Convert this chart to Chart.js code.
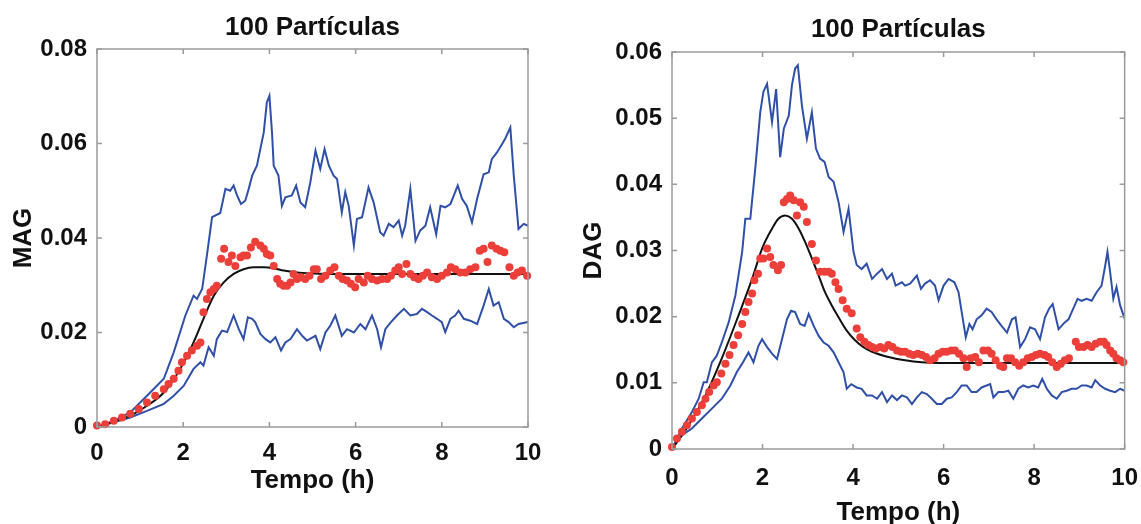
<!DOCTYPE html>
<html>
<head>
<meta charset="utf-8">
<script src="https://cdn.jsdelivr.net/npm/chart.js@4.4.1/dist/chart.umd.min.js"></script>
<style>
  html, body { margin: 0; padding: 0; background: #fff; overflow: hidden; width: 1141px; height: 524px; }
  #left { position: absolute; left: 0; top: 0; }
  #right { position: absolute; left: 570px; top: 0; }
</style>
</head>
<body>
<canvas id="left" width="560" height="524"></canvas>
<canvas id="right" width="583" height="540"></canvas>
<script>
// MAG (left panel) - time in hours
const magUpperT = [0, 0.39, 0.77, 1.16, 1.55, 1.78, 2.05, 2.24, 2.32, 2.44, 2.55, 2.67, 2.86, 2.98, 3.09, 3.17, 3.25, 3.34, 3.44, 3.52, 3.60, 3.71, 3.79, 3.87, 3.94, 4.00, 4.06, 4.10, 4.21, 4.29, 4.37, 4.52, 4.62, 4.72, 4.83, 4.95, 5.07, 5.18, 5.28, 5.38, 5.49, 5.57, 5.68, 5.76, 5.84, 5.96, 6.03, 6.15, 6.30, 6.42, 6.57, 6.65, 6.77, 6.88, 7.00, 7.08, 7.15, 7.27, 7.39, 7.50, 7.62, 7.73, 7.87, 7.97, 8.08, 8.20, 8.28, 8.37, 8.47, 8.58, 8.70, 8.82, 8.97, 9.09, 9.16, 9.28, 9.40, 9.47, 9.59, 9.67, 9.78, 9.90, 10.0];
const magUpperV = [0, 0.0013, 0.0031, 0.0066, 0.0102, 0.0158, 0.0236, 0.0278, 0.0271, 0.0292, 0.0363, 0.0444, 0.0453, 0.0504, 0.0500, 0.0511, 0.0490, 0.0472, 0.0479, 0.0504, 0.0532, 0.0553, 0.0588, 0.0624, 0.0687, 0.0701, 0.0624, 0.0553, 0.0532, 0.0468, 0.0486, 0.0490, 0.0511, 0.0475, 0.0465, 0.0518, 0.0585, 0.0546, 0.0588, 0.0553, 0.0532, 0.0525, 0.0454, 0.0497, 0.0468, 0.0384, 0.0440, 0.0444, 0.0507, 0.0475, 0.0412, 0.0405, 0.0430, 0.0423, 0.0437, 0.0405, 0.0426, 0.0504, 0.0394, 0.0416, 0.0426, 0.0465, 0.0408, 0.0468, 0.0465, 0.0472, 0.0490, 0.0511, 0.0483, 0.0468, 0.0433, 0.0483, 0.0535, 0.0539, 0.0567, 0.0581, 0.0599, 0.0610, 0.0634, 0.0532, 0.0419, 0.0430, 0.0426];

const magLowerT = [0, 0.39, 0.77, 1.16, 1.55, 1.78, 2.01, 2.24, 2.40, 2.47, 2.59, 2.71, 2.78, 2.90, 3.02, 3.17, 3.29, 3.40, 3.50, 3.60, 3.67, 3.79, 3.91, 4.02, 4.14, 4.27, 4.37, 4.49, 4.64, 4.76, 4.87, 5.07, 5.18, 5.30, 5.41, 5.53, 5.68, 5.80, 5.96, 6.11, 6.23, 6.38, 6.50, 6.59, 6.69, 6.81, 6.96, 7.12, 7.27, 7.42, 7.54, 7.66, 7.77, 7.89, 8.00, 8.08, 8.20, 8.31, 8.39, 8.51, 8.66, 8.82, 8.97, 9.09, 9.20, 9.32, 9.44, 9.55, 9.67, 9.78, 10.0];
const magLowerV = [0, 0.0010, 0.0020, 0.0034, 0.0049, 0.0066, 0.0087, 0.0123, 0.0137, 0.0130, 0.0169, 0.0151, 0.0186, 0.0204, 0.0201, 0.0236, 0.0207, 0.0186, 0.0232, 0.0229, 0.0222, 0.0197, 0.0186, 0.0179, 0.0190, 0.0162, 0.0179, 0.0186, 0.0207, 0.0193, 0.0183, 0.0193, 0.0165, 0.0200, 0.0214, 0.0236, 0.0193, 0.0207, 0.0200, 0.0218, 0.0207, 0.0236, 0.0207, 0.0169, 0.0207, 0.0221, 0.0236, 0.0250, 0.0236, 0.0239, 0.0250, 0.0243, 0.0236, 0.0229, 0.0222, 0.0201, 0.0229, 0.0236, 0.0246, 0.0229, 0.0225, 0.0218, 0.0257, 0.0292, 0.0257, 0.0264, 0.0229, 0.0222, 0.0211, 0.0218, 0.0222];

const magDotsT = [0.0, 0.19, 0.39, 0.58, 0.77, 0.97, 1.16, 1.35, 1.55, 1.66, 1.78, 1.89, 1.97, 2.09, 2.20, 2.32, 2.40, 2.47, 2.55, 2.63, 2.71, 2.78, 2.88, 2.95, 3.05, 3.13, 3.21, 3.33, 3.40, 3.48, 3.57, 3.67, 3.79, 3.87, 3.94, 4.02, 4.10, 4.18, 4.25, 4.33, 4.41, 4.49, 4.56, 4.64, 4.73, 4.83, 4.93, 5.03, 5.10, 5.20, 5.30, 5.41, 5.51, 5.61, 5.70, 5.80, 5.89, 5.99, 6.07, 6.19, 6.28, 6.38, 6.50, 6.61, 6.73, 6.82, 6.92, 7.00, 7.08, 7.18, 7.27, 7.36, 7.46, 7.56, 7.66, 7.77, 7.89, 8.00, 8.12, 8.21, 8.31, 8.43, 8.55, 8.66, 8.78, 8.88, 8.97, 9.06, 9.16, 9.27, 9.36, 9.45, 9.57, 9.67, 9.76, 9.86, 9.98];
const magDotsV = [0.0003, 0.0006, 0.0013, 0.0020, 0.0028, 0.0038, 0.0052, 0.0066, 0.0080, 0.0091, 0.0102, 0.0119, 0.0137, 0.0151, 0.0162, 0.0172, 0.0179, 0.0243, 0.0271, 0.0285, 0.0292, 0.0299, 0.0356, 0.0377, 0.0349, 0.0363, 0.0341, 0.0359, 0.0363, 0.0363, 0.0380, 0.0392, 0.0384, 0.0377, 0.0366, 0.0363, 0.0341, 0.0313, 0.0303, 0.0299, 0.0299, 0.0306, 0.0324, 0.0313, 0.0317, 0.0313, 0.0320, 0.0334, 0.0334, 0.0313, 0.0320, 0.0331, 0.0338, 0.0320, 0.0313, 0.0310, 0.0303, 0.0296, 0.0313, 0.0306, 0.0320, 0.0313, 0.0310, 0.0313, 0.0313, 0.0320, 0.0331, 0.0338, 0.0324, 0.0345, 0.0324, 0.0317, 0.0313, 0.0320, 0.0327, 0.0317, 0.0313, 0.0320, 0.0327, 0.0338, 0.0334, 0.0327, 0.0327, 0.0334, 0.0338, 0.0373, 0.0377, 0.0349, 0.0384, 0.0377, 0.0373, 0.0370, 0.0338, 0.0320, 0.0327, 0.0331, 0.0320];

const magFitT = [0, 0.77, 1.16, 1.55, 1.93, 2.24, 2.47, 2.71, 2.94, 3.17, 3.40, 3.63, 3.87, 4.10, 4.33, 4.64, 5.03, 5.41, 10.0];
const magFitV = [0, 0.0024, 0.0045, 0.0073, 0.0123, 0.0179, 0.0229, 0.0278, 0.0306, 0.0324, 0.0334, 0.0338, 0.0338, 0.0336, 0.0331, 0.0327, 0.0325, 0.0324, 0.0324];

// DAG (right panel)
const dagUpperT = [0, 0.22, 0.44, 0.59, 0.70, 0.77, 0.88, 0.99, 1.10, 1.25, 1.40, 1.55, 1.62, 1.73, 1.84, 1.95, 2.02, 2.10, 2.21, 2.30, 2.39, 2.47, 2.58, 2.65, 2.72, 2.78, 2.87, 2.98, 3.09, 3.18, 3.27, 3.37, 3.46, 3.57, 3.68, 3.79, 3.90, 4.01, 4.08, 4.19, 4.30, 4.42, 4.53, 4.64, 4.75, 4.86, 4.94, 5.08, 5.15, 5.26, 5.41, 5.50, 5.59, 5.70, 5.81, 5.89, 6.00, 6.11, 6.24, 6.33, 6.40, 6.49, 6.57, 6.64, 6.73, 6.84, 6.95, 7.06, 7.17, 7.28, 7.40, 7.51, 7.59, 7.69, 7.80, 7.91, 8.02, 8.13, 8.24, 8.33, 8.41, 8.54, 8.67, 8.76, 8.83, 8.96, 9.05, 9.16, 9.27, 9.38, 9.49, 9.57, 9.62, 9.68, 9.75, 9.82, 9.90, 10.0];
const dagUpperV = [0, 0.0031, 0.0056, 0.0076, 0.0101, 0.0101, 0.0131, 0.0141, 0.0161, 0.0191, 0.0232, 0.0298, 0.0348, 0.0348, 0.0424, 0.0509, 0.0540, 0.0552, 0.0494, 0.0544, 0.0441, 0.0484, 0.0504, 0.0550, 0.0575, 0.0580, 0.0519, 0.0469, 0.0509, 0.0454, 0.0439, 0.0434, 0.0411, 0.0404, 0.0373, 0.0328, 0.0363, 0.0298, 0.0278, 0.0272, 0.0280, 0.0257, 0.0265, 0.0272, 0.0257, 0.0265, 0.0247, 0.0252, 0.0247, 0.0250, 0.0262, 0.0242, 0.0250, 0.0255, 0.0247, 0.0225, 0.0247, 0.0257, 0.0252, 0.0237, 0.0207, 0.0169, 0.0189, 0.0181, 0.0196, 0.0202, 0.0212, 0.0207, 0.0196, 0.0186, 0.0176, 0.0196, 0.0199, 0.0154, 0.0166, 0.0184, 0.0181, 0.0166, 0.0199, 0.0212, 0.0219, 0.0181, 0.0191, 0.0196, 0.0207, 0.0227, 0.0224, 0.0227, 0.0224, 0.0237, 0.0247, 0.0277, 0.0298, 0.0267, 0.0227, 0.0245, 0.0217, 0.0197];

const dagLowerT = [0, 0.22, 0.44, 0.66, 0.88, 1.10, 1.29, 1.43, 1.55, 1.69, 1.80, 1.91, 1.99, 2.10, 2.21, 2.32, 2.43, 2.54, 2.63, 2.72, 2.83, 2.93, 3.02, 3.13, 3.24, 3.35, 3.46, 3.57, 3.68, 3.79, 3.86, 3.96, 4.08, 4.19, 4.30, 4.42, 4.53, 4.64, 4.75, 4.86, 4.97, 5.08, 5.19, 5.30, 5.41, 5.52, 5.63, 5.74, 5.85, 5.96, 6.07, 6.18, 6.29, 6.40, 6.51, 6.62, 6.73, 6.84, 6.95, 7.03, 7.10, 7.21, 7.32, 7.43, 7.54, 7.65, 7.76, 7.87, 7.98, 8.09, 8.18, 8.28, 8.39, 8.50, 8.61, 8.72, 8.83, 8.94, 9.05, 9.16, 9.27, 9.35, 9.46, 9.57, 9.68, 9.79, 9.90, 10.0];
const dagLowerV = [0, 0.0021, 0.0031, 0.0046, 0.0061, 0.0076, 0.0096, 0.0116, 0.0129, 0.0146, 0.0131, 0.0156, 0.0166, 0.0154, 0.0144, 0.0136, 0.0166, 0.0196, 0.0209, 0.0207, 0.0189, 0.0186, 0.0204, 0.0186, 0.0171, 0.0161, 0.0156, 0.0146, 0.0131, 0.0116, 0.0091, 0.0098, 0.0093, 0.0091, 0.0081, 0.0081, 0.0076, 0.0086, 0.0071, 0.0081, 0.0074, 0.0081, 0.0078, 0.0068, 0.0078, 0.0086, 0.0083, 0.0076, 0.0068, 0.0068, 0.0076, 0.0078, 0.0086, 0.0096, 0.0096, 0.0086, 0.0086, 0.0093, 0.0096, 0.0098, 0.0078, 0.0086, 0.0086, 0.0088, 0.0076, 0.0091, 0.0096, 0.0093, 0.0096, 0.0093, 0.0106, 0.0091, 0.0081, 0.0076, 0.0086, 0.0088, 0.0091, 0.0091, 0.0096, 0.0096, 0.0093, 0.0104, 0.0096, 0.0091, 0.0088, 0.0086, 0.0091, 0.0088];

const dagDotsT = [0.0, 0.11, 0.22, 0.33, 0.44, 0.55, 0.66, 0.74, 0.82, 0.92, 0.99, 1.09, 1.18, 1.27, 1.36, 1.46, 1.55, 1.62, 1.69, 1.77, 1.82, 1.90, 1.95, 2.02, 2.10, 2.17, 2.24, 2.34, 2.41, 2.47, 2.54, 2.61, 2.69, 2.76, 2.83, 2.91, 2.98, 3.09, 3.18, 3.27, 3.37, 3.46, 3.53, 3.61, 3.68, 3.77, 3.86, 3.97, 4.08, 4.16, 4.25, 4.34, 4.42, 4.50, 4.60, 4.69, 4.78, 4.87, 4.97, 5.06, 5.15, 5.24, 5.33, 5.43, 5.52, 5.61, 5.70, 5.80, 5.89, 5.98, 6.07, 6.17, 6.25, 6.34, 6.44, 6.51, 6.60, 6.70, 6.78, 6.88, 6.98, 7.06, 7.15, 7.25, 7.32, 7.40, 7.49, 7.58, 7.67, 7.76, 7.86, 7.95, 8.04, 8.13, 8.23, 8.31, 8.40, 8.50, 8.59, 8.68, 8.77, 8.92, 8.99, 9.09, 9.18, 9.27, 9.36, 9.46, 9.54, 9.60, 9.68, 9.75, 9.82, 9.90, 9.97];
const dagDotsV = [0.0003, 0.0016, 0.0026, 0.0036, 0.0046, 0.0056, 0.0066, 0.0076, 0.0086, 0.0096, 0.0101, 0.0114, 0.0129, 0.0142, 0.0157, 0.0172, 0.0189, 0.0207, 0.0222, 0.0235, 0.0255, 0.0265, 0.0288, 0.0288, 0.0303, 0.0290, 0.0278, 0.0270, 0.0278, 0.0373, 0.0378, 0.0383, 0.0376, 0.0353, 0.0373, 0.0366, 0.0343, 0.0310, 0.0285, 0.0268, 0.0268, 0.0268, 0.0265, 0.0252, 0.0242, 0.0225, 0.0212, 0.0205, 0.0182, 0.0169, 0.0162, 0.0157, 0.0154, 0.0152, 0.0154, 0.0152, 0.0157, 0.0154, 0.0149, 0.0147, 0.0147, 0.0144, 0.0142, 0.0144, 0.0142, 0.0139, 0.0134, 0.0137, 0.0144, 0.0147, 0.0147, 0.0149, 0.0149, 0.0144, 0.0137, 0.0124, 0.0137, 0.0139, 0.0131, 0.0149, 0.0149, 0.0144, 0.0134, 0.0126, 0.0124, 0.0137, 0.0137, 0.0131, 0.0126, 0.0131, 0.0137, 0.0139, 0.0142, 0.0144, 0.0142, 0.0139, 0.0131, 0.0124, 0.0129, 0.0134, 0.0137, 0.0162, 0.0154, 0.0154, 0.0157, 0.0154, 0.0159, 0.0162, 0.0162, 0.0157, 0.0149, 0.0144, 0.0137, 0.0134, 0.0131];

const dagFitT = [0, 0.37, 0.74, 1.10, 1.47, 1.77, 1.99, 2.21, 2.35, 2.50, 2.65, 2.80, 2.94, 3.09, 3.24, 3.38, 3.53, 3.68, 3.86, 4.05, 4.23, 4.42, 4.78, 5.15, 5.52, 5.89, 10.0];
const dagFitV = [0, 0.0036, 0.0081, 0.0137, 0.0202, 0.0257, 0.0303, 0.0333, 0.0348, 0.0353, 0.0348, 0.0333, 0.0313, 0.0288, 0.0262, 0.0237, 0.0217, 0.0199, 0.0179, 0.0164, 0.0154, 0.0147, 0.0139, 0.0134, 0.0131, 0.0130, 0.0130];

const BLUE = "#3050a8";
const RED = "#ec3f3a";
const FONT = "'Liberation Sans', Arial, sans-serif";

function pts(t, v) {
  return t.map((x, i) => ({ x, y: v[i] }));
}

// box around the plot with inward tick marks, MATLAB style, plus the panel title
const boxPlugin = {
  id: "box",
  afterDatasetsDraw(chart) {
    const { ctx, chartArea: a, scales } = chart;
    ctx.save();
    ctx.strokeStyle = "#9a9a9a";
    ctx.lineWidth = 1.5;
    ctx.strokeRect(a.left, a.top, a.right - a.left, a.bottom - a.top);
    const len = 5;
    ctx.beginPath();
    scales.x.ticks.forEach((t) => {
      const px = scales.x.getPixelForValue(t.value);
      ctx.moveTo(px, a.bottom); ctx.lineTo(px, a.bottom - len);
      ctx.moveTo(px, a.top); ctx.lineTo(px, a.top + len);
    });
    scales.y.ticks.forEach((t) => {
      const py = scales.y.getPixelForValue(t.value);
      ctx.moveTo(a.left, py); ctx.lineTo(a.left + len, py);
      ctx.moveTo(a.right, py); ctx.lineTo(a.right - len, py);
    });
    ctx.stroke();
    ctx.restore();
  },
  afterDraw(chart, args, opts) {
    const { ctx, chartArea: a } = chart;
    ctx.save();
    ctx.fillStyle = "#111";
    ctx.font = "bold 26px " + FONT;
    ctx.textAlign = "center";
    ctx.textBaseline = "middle";
    ctx.fillText(opts.text, (a.left + a.right) / 2, opts.y);
    ctx.restore();
  },
};

function makeChart(id, cfg) {
  return new Chart(document.getElementById(id), {
    type: "scatter",
    data: {
      datasets: [
        {
          data: pts(cfg.dotsT, cfg.dotsV),
          backgroundColor: RED,
          borderWidth: 0,
          pointRadius: 4,
          clip: false,
          order: 1,
        },
        {
          data: pts(cfg.fitT, cfg.fitV),
          showLine: true,
          borderColor: "#111",
          borderWidth: 2,
          pointRadius: 0,
          cubicInterpolationMode: "monotone",
          order: 2,
        },
        {
          data: pts(cfg.upT, cfg.upV),
          showLine: true,
          borderColor: BLUE,
          borderWidth: 2,
          pointRadius: 0,
          order: 3,
        },
        {
          data: pts(cfg.loT, cfg.loV),
          showLine: true,
          borderColor: BLUE,
          borderWidth: 2,
          pointRadius: 0,
          order: 3,
        },
      ],
    },
    options: {
      responsive: false,
      animation: false,
      layout: { padding: { top: cfg.top, right: cfg.right, left: 0, bottom: 0 } },
      plugins: {
        legend: { display: false },
        tooltip: { enabled: false },
        box: { text: "100 Partículas", y: cfg.titleY },
      },
      scales: {
        x: {
          type: "linear",
          min: 0,
          max: 10,
          grid: { display: false, drawTicks: false },
          border: { display: false },
          ticks: { stepSize: 2, padding: cfg.xPad, color: "#111", font: { family: FONT, size: 24, weight: "bold" } },
          title: { display: true, text: "Tempo (h)", color: "#111", font: { family: FONT, size: 26, weight: "bold" }, padding: { top: 0, bottom: cfg.xTitlePad } },
          afterFit: (s) => { s.height = cfg.xHeight; },
        },
        y: {
          min: 0,
          max: cfg.yMax,
          grid: { display: false, drawTicks: false },
          border: { display: false },
          ticks: {
            stepSize: cfg.yStep,
            padding: 10,
            color: "#111",
            font: { family: FONT, size: 24, weight: "bold" },
            callback: (v) => (v === 0 ? "0" : v.toFixed(2)),
          },
          title: { display: true, text: cfg.yLabel, color: "#111", font: { family: FONT, size: 26, weight: "bold" }, padding: { top: cfg.yTitlePad, bottom: 0 } },
          afterFit: (s) => { s.width = cfg.yWidth; },
        },
      },
    },
    plugins: [boxPlugin],
  });
}

makeChart("left", {
  dotsT: magDotsT, dotsV: magDotsV, fitT: magFitT, fitV: magFitV,
  upT: magUpperT, upV: magUpperV, loT: magLowerT, loV: magLowerV,
  yMax: 0.08, yStep: 0.02, yLabel: "MAG",
  top: 49, right: 32, xHeight: 97, yWidth: 97,
  xPad: 12, xTitlePad: 28, yTitlePad: 8, titleY: 28,
});

makeChart("right", {
  dotsT: dagDotsT, dotsV: dagDotsV, fitT: dagFitT, fitV: dagFitV,
  upT: dagUpperT, upV: dagUpperV, loT: dagLowerT, loV: dagLowerV,
  yMax: 0.06, yStep: 0.01, yLabel: "DAG",
  top: 52, right: 0, xHeight: 91, yWidth: 102,
  xPad: 15, xTitlePad: 12, yTitlePad: 8, titleY: 30,
});
</script>
</body>
</html>
